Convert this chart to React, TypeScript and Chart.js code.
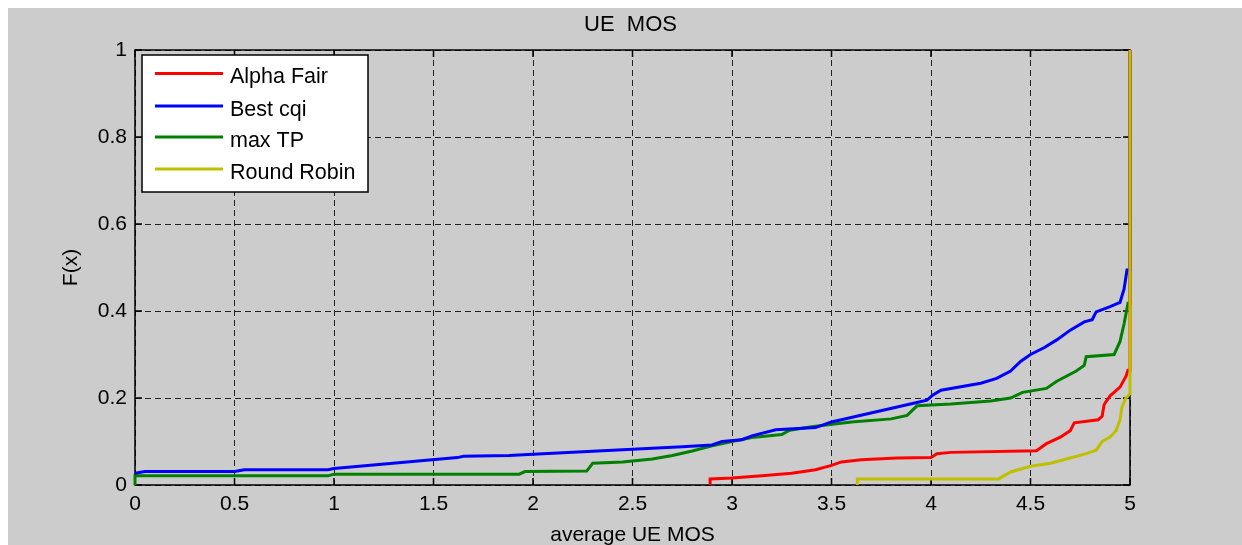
import React, { useEffect, useRef } from "react";
import { Chart, registerables } from "chart.js";

Chart.register(...registerables);

// ---- data (x = average UE MOS, y = F(x)), polyline vertices ----
const alphaFairX = [2.89, 2.89, 3.0, 3.15, 3.3, 3.42, 3.5, 3.55, 3.65, 3.83, 4.0, 4.03, 4.1, 4.53, 4.58, 4.65, 4.7, 4.72, 4.84, 4.86, 4.87, 4.9, 4.95, 4.98, 4.99, 5, 5];
const alphaFairY = [0, 0.014, 0.016, 0.021, 0.027, 0.035, 0.045, 0.053, 0.058, 0.062, 0.063, 0.072, 0.075, 0.079, 0.095, 0.11, 0.125, 0.143, 0.15, 0.158, 0.185, 0.205, 0.225, 0.25, 0.264, 0.264, 1];

const bestCqiX = [0, 0.05, 0.5, 0.55, 0.97, 1.0, 1.62, 1.65, 1.88, 2.0, 2.75, 2.9, 2.95, 3.05, 3.1, 3.22, 3.42, 3.5, 3.94, 3.98, 4.01, 4.05, 4.25, 4.33, 4.4, 4.45, 4.5, 4.57, 4.63, 4.7, 4.77, 4.81, 4.83, 4.9, 4.95, 4.97, 4.985, 5, 5];
const bestCqiY = [0.027, 0.031, 0.031, 0.035, 0.035, 0.038, 0.063, 0.066, 0.068, 0.0705, 0.088, 0.092, 0.1, 0.104, 0.113, 0.127, 0.132, 0.145, 0.191, 0.195, 0.207, 0.218, 0.234, 0.245, 0.262, 0.284, 0.3, 0.316, 0.333, 0.356, 0.375, 0.38, 0.398, 0.41, 0.42, 0.45, 0.494, 0.494, 1];

const maxTpX = [0, 0, 0.97, 1.0, 1.93, 1.96, 2.27, 2.3, 2.45, 2.6, 2.7, 2.8, 2.9, 3.0, 3.1, 3.25, 3.29, 3.4, 3.6, 3.8, 3.88, 3.93, 4.1, 4.3, 4.4, 4.46, 4.58, 4.63, 4.73, 4.77, 4.78, 4.92, 4.95, 4.97, 4.99, 5, 5];
const maxTpY = [0, 0.021, 0.021, 0.025, 0.025, 0.031, 0.032, 0.05, 0.053, 0.06, 0.068, 0.078, 0.09, 0.1, 0.109, 0.116, 0.126, 0.134, 0.145, 0.152, 0.16, 0.182, 0.186, 0.193, 0.2, 0.213, 0.222, 0.238, 0.262, 0.275, 0.295, 0.3, 0.33, 0.37, 0.418, 0.418, 1];

const roundRobinX = [3.63, 3.63, 4.34, 4.4, 4.5, 4.6, 4.7, 4.78, 4.83, 4.86, 4.9, 4.93, 4.95, 4.96, 4.98, 5, 5];
const roundRobinY = [0, 0.014, 0.014, 0.03, 0.043, 0.05, 0.062, 0.072, 0.08, 0.1, 0.11, 0.125, 0.15, 0.18, 0.2, 0.21, 1];

const seriesLabels = ["Alpha Fair", "Best cqi", "max TP", "Round Robin"];
const seriesColors = ["#ff0000", "#0000ff", "#008000", "#bfbf00"];

const titleText = "UE  MOS";
const xLabelText = "average UE MOS";
const yLabelText = "F(x)";

const FONT = "Arial, 'Liberation Sans', sans-serif";

function toPoints(xs: number[], ys: number[]) {
  return xs.map((x, i) => ({ x, y: ys[i] }));
}

function fmtTick(v: any) {
  const n = Math.round(Number(v) * 10) / 10;
  return String(n);
}

const matlabPlugin = {
  id: "matlabDecor",
  beforeDatasetsDraw(chart: any) {
    const { ctx, chartArea: a } = chart;
    const xs = chart.scales.x;
    const ys = chart.scales.y;
    ctx.save();
    ctx.strokeStyle = "#000";
    ctx.lineWidth = 1.5;
    ctx.setLineDash([]);
    ctx.strokeRect(a.left, a.top, a.right - a.left, a.bottom - a.top);
    const tl = 7;
    ctx.beginPath();
    xs.ticks.forEach((t: any) => {
      const px = xs.getPixelForValue(t.value);
      ctx.moveTo(px, a.bottom);
      ctx.lineTo(px, a.bottom - tl);
      ctx.moveTo(px, a.top);
      ctx.lineTo(px, a.top + tl);
    });
    ys.ticks.forEach((t: any) => {
      const py = ys.getPixelForValue(t.value);
      ctx.moveTo(a.left, py);
      ctx.lineTo(a.left + tl, py);
      ctx.moveTo(a.right, py);
      ctx.lineTo(a.right - tl, py);
    });
    ctx.stroke();
    ctx.restore();
  },
  afterDraw(chart: any) {
    const { ctx, chartArea: a } = chart;
    ctx.save();
    ctx.fillStyle = "#000";
    const cx = (a.left + a.right) / 2;
    const cy = (a.top + a.bottom) / 2;
    // title
    ctx.font = `22px ${FONT}`;
    ctx.textAlign = "center";
    ctx.textBaseline = "middle";
    ctx.fillText(titleText, cx - 2, 17);
    // x label
    ctx.font = `21px ${FONT}`;
    ctx.textBaseline = "alphabetic";
    ctx.fillText(xLabelText, cx, 533);
    // y label
    ctx.save();
    ctx.translate(63, cy);
    ctx.rotate(-Math.PI / 2);
    ctx.textBaseline = "middle";
    ctx.fillText(yLabelText, 0, 0);
    ctx.restore();

    // legend box
    const bx = 134, by = 47, bw = 226, bh = 137;
    ctx.fillStyle = "#fff";
    ctx.fillRect(bx, by, bw, bh);
    ctx.strokeStyle = "#000";
    ctx.lineWidth = 1.5;
    ctx.strokeRect(bx, by, bw, bh);
    const rowY = [65.5, 98, 129, 161];
    ctx.font = `21.5px ${FONT}`;
    chart.data.datasets.forEach((ds: any, i: number) => {
      const y = rowY[i];
      ctx.strokeStyle = ds.borderColor;
      ctx.lineWidth = 3;
      ctx.beginPath();
      ctx.moveTo(147, y);
      ctx.lineTo(215, y);
      ctx.stroke();
      ctx.fillStyle = "#000";
      ctx.textAlign = "left";
      ctx.textBaseline = "alphabetic";
      ctx.fillText(ds.label, 222, y + 9.5);
    });
    ctx.restore();
  },
};

export default function App() {
  const canvasRef = useRef<HTMLCanvasElement | null>(null);

  useEffect(() => {
    const canvas = canvasRef.current;
    if (!canvas) return;
    const xsArr = [alphaFairX, bestCqiX, maxTpX, roundRobinX];
    const ysArr = [alphaFairY, bestCqiY, maxTpY, roundRobinY];
    const chart = new Chart(canvas, {
      type: "line",
      data: {
        datasets: seriesLabels.map((label, i) => ({
          label,
          data: toPoints(xsArr[i], ysArr[i]),
          borderColor: seriesColors[i],
          backgroundColor: seriesColors[i],
          borderWidth: 3,
          pointRadius: 0,
          tension: 0,
          fill: false,
          clip: 4,
          order: i === 3 ? -1 : i,
        })),
      },
      options: {
        responsive: false,
        animation: false,
        devicePixelRatio: 1,
        layout: { padding: { top: 42, right: 112, left: 0, bottom: 0 } },
        plugins: {
          legend: { display: false },
          title: { display: false },
          tooltip: { enabled: false },
        },
        events: [],
        scales: {
          x: {
            type: "linear",
            min: 0,
            max: 5,
            afterFit: (s: any) => {
              s.height = 60;
            },
            ticks: {
              stepSize: 0.5,
              padding: 7,
              color: "#000",
              font: { family: FONT, size: 21 },
              maxRotation: 0,
              callback: fmtTick,
            },
            grid: { color: "#222", lineWidth: 1, drawTicks: false },
            border: { display: false, dash: [6, 4] },
          },
          y: {
            type: "linear",
            min: 0,
            max: 1,
            afterFit: (s: any) => {
              s.width = 127;
            },
            ticks: {
              stepSize: 0.2,
              padding: 8,
              color: "#000",
              font: { family: FONT, size: 21 },
              callback: fmtTick,
            },
            grid: { color: "#222", lineWidth: 1, drawTicks: false },
            border: { display: false, dash: [6, 4] },
          },
        },
      },
      plugins: [matlabPlugin],
    } as any);
    return () => chart.destroy();
  }, []);

  return (
    <div
      style={{
        position: "fixed",
        left: 8,
        top: 8,
        width: 1234,
        height: 537,
        background: "#cccccc",
        overflow: "hidden",
      }}
    >
      <canvas ref={canvasRef} width={1234} height={537} style={{ display: "block" }} />
    </div>
  );
}
